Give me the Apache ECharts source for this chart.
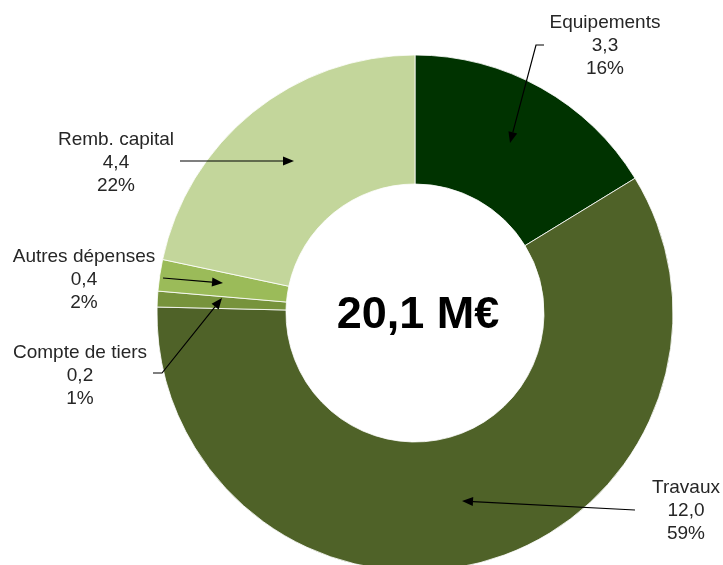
<!DOCTYPE html>
<html>
<head>
<meta charset="utf-8">
<script src="https://cdn.jsdelivr.net/npm/echarts@6/dist/echarts.min.js"></script>
<style>
  html, body { margin: 0; padding: 0; background: #fff; }
  #chart { width: 723px; height: 565px; }
</style>
</head>
<body>
<div id="chart"></div>
<script>
// données (M€)
var categories = ['Equipements', 'Travaux', 'Compte de tiers', 'Autres dépenses', 'Remb. capital'];
var values = [3.3, 12.0, 0.2, 0.4, 4.4];
var colors = ['#003300', '#4f6228', '#77933c', '#9bbb59', '#c3d69b'];
var totalLabel = '20,1 M€';

// position des étiquettes (centre x, haut du bloc), même ordre que categories
var labelPos = [[605, 11], [686, 476], [80, 341], [84, 245], [116, 128]];
// flèches : points du trait, le dernier porte la pointe
var arrows = [
    [[544, 45], [536, 45], [510, 143]],
    [[635, 510], [462, 501]],
    [[153, 373], [162, 373], [222, 298]],
    [[163, 278], [223, 283]],
    [[180, 161], [294, 161]]
];

function arrowGraphic(pts) {
    var a = pts[pts.length - 2], b = pts[pts.length - 1];
    var ang = Math.atan2(b[1] - a[1], b[0] - a[0]);
    var len = 11, w = 4.5;
    var bx = b[0] - len * Math.cos(ang), by = b[1] - len * Math.sin(ang);
    var head = [
        b,
        [bx + w * Math.sin(ang), by - w * Math.cos(ang)],
        [bx - w * Math.sin(ang), by + w * Math.cos(ang)]
    ];
    var line = pts.slice(0, -1).concat([[bx, by]]);
    return [
        { type: 'polyline', shape: { points: line }, style: { stroke: '#000', lineWidth: 1.2, fill: null }, z: 10 },
        { type: 'polygon', shape: { points: head }, style: { fill: '#000' }, z: 10 }
    ];
}

var graphics = [{
    type: 'text', x: 418, y: 316, z: 10,
    style: {
        text: totalLabel,
        font: 'bold 45px "Liberation Sans", Arial, sans-serif',
        fill: '#000',
        align: 'center',
        verticalAlign: 'middle'
    }
}];
arrows.forEach(function (p) { graphics = graphics.concat(arrowGraphic(p)); });

var myChart = echarts.init(document.getElementById('chart'));
myChart.setOption({
    animation: false,
    color: colors,
    series: [{
        type: 'pie',
        center: [415, 313],
        radius: [129, 258],
        startAngle: 90,
        clockwise: true,
        percentPrecision: 0,
        avoidLabelOverlap: false,
        itemStyle: { borderColor: '#ffffff', borderWidth: 0.8 },
        label: {
            show: true,
            color: '#262626',
            fontFamily: '"Liberation Sans", Arial, sans-serif',
            fontSize: 19,
            lineHeight: 23,
            align: 'center',
            formatter: function (p) {
                return p.name + '\n' + p.value.toFixed(1).replace('.', ',') + '\n' + p.percent + '%';
            }
        },
        labelLine: { show: false },
        labelLayout: function (p) {
            var lp = labelPos[p.dataIndex];
            return { x: lp[0], y: lp[1], align: 'center', verticalAlign: 'top', hideOverlap: false };
        },
        emphasis: { disabled: true },
        data: categories.map(function (c, i) { return { name: c, value: values[i] }; })
    }],
    graphic: graphics
});
window.onresize = function () { myChart.resize(); };
</script>
</body>
</html>
